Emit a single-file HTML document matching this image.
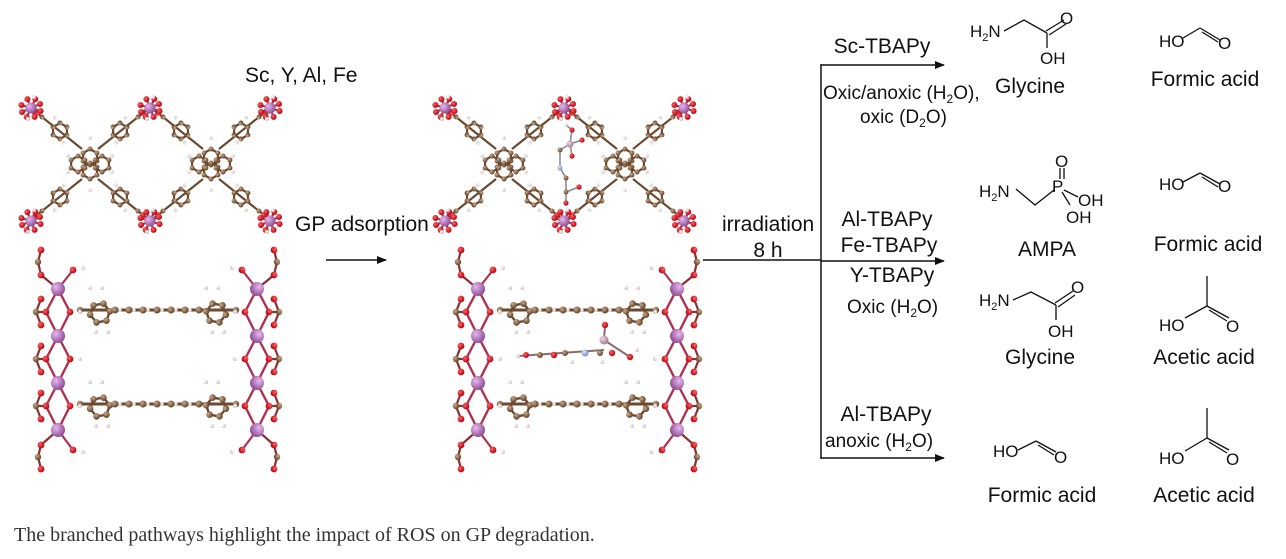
<!DOCTYPE html>
<html><head><meta charset="utf-8"><style>
html,body{margin:0;padding:0;background:#fff;width:1286px;height:559px;overflow:hidden}
svg{display:block}
text{font-family:"Liberation Sans",Arial,sans-serif;fill:#111}
</style></head><body>
<svg width="1286" height="559" viewBox="0 0 1286 559" xmlns="http://www.w3.org/2000/svg" xmlns:xlink="http://www.w3.org/1999/xlink">
<defs>
<radialGradient id="gC" cx="35%" cy="35%" r="70%"><stop offset="0" stop-color="#c9a88a"/><stop offset="1" stop-color="#5e3e25"/></radialGradient>
<radialGradient id="gO" cx="35%" cy="35%" r="70%"><stop offset="0" stop-color="#ff6060"/><stop offset="1" stop-color="#b00010"/></radialGradient>
<radialGradient id="gH" cx="35%" cy="35%" r="70%"><stop offset="0" stop-color="#ffffff"/><stop offset="1" stop-color="#cbb8b8"/></radialGradient>
<radialGradient id="gM" cx="35%" cy="35%" r="70%"><stop offset="0" stop-color="#e8b8ee"/><stop offset="1" stop-color="#8a4a92"/></radialGradient>
<radialGradient id="gN" cx="35%" cy="35%" r="70%"><stop offset="0" stop-color="#dde4ff"/><stop offset="1" stop-color="#7a86b8"/></radialGradient>
<radialGradient id="gP" cx="35%" cy="35%" r="70%"><stop offset="0" stop-color="#f4d8e8"/><stop offset="1" stop-color="#a07890"/></radialGradient>
<marker id="ah" markerWidth="10" markerHeight="8" refX="9" refY="4" orient="auto" markerUnits="userSpaceOnUse"><path d="M0,0 L10,4 L0,8 z" fill="#111"/></marker>

<g id="hex8">
<polygon points="0,8 -6.9,4 -6.9,-4 0,-8 6.9,-4 6.9,4" fill="none" stroke="#6a4a30" stroke-width="2.2"/>
<g fill="url(#gC)"><circle cx="0" cy="8" r="2.5"/><circle cx="-6.9" cy="4" r="2.5"/><circle cx="-6.9" cy="-4" r="2.5"/><circle cx="0" cy="-8" r="2.5"/><circle cx="6.9" cy="-4" r="2.5"/><circle cx="6.9" cy="4" r="2.5"/></g>
</g>
<g id="hex10">
<polygon points="0,10 -8.7,5 -8.7,-5 0,-10 8.7,-5 8.7,5" fill="none" stroke="#6a4a30" stroke-width="2.4"/>
<g fill="url(#gC)"><circle cx="0" cy="10" r="3.3"/><circle cx="-8.7" cy="5" r="3.3"/><circle cx="-8.7" cy="-5" r="3.3"/><circle cx="0" cy="-10" r="3.3"/><circle cx="8.7" cy="-5" r="3.3"/><circle cx="8.7" cy="5" r="3.3"/></g>
</g>
<g id="py">
<use href="#hex8" xlink:href="#hex8" x="0" y="-7"/><use href="#hex8" xlink:href="#hex8" x="0" y="7"/>
<use href="#hex8" xlink:href="#hex8" x="-12" y="0"/><use href="#hex8" xlink:href="#hex8" x="12" y="0"/>
<g fill="url(#gH)"><circle cx="-22" cy="-8" r="1.8"/><circle cx="22" cy="-8" r="1.8"/><circle cx="-22" cy="8" r="1.8"/><circle cx="22" cy="8" r="1.8"/><circle cx="0" cy="-26" r="1.8"/><circle cx="0" cy="26" r="1.8"/></g>
</g>
<g id="arm">
<line x1="0" y1="0" x2="50" y2="40" stroke="#6a4a30" stroke-width="2.2"/>
<use href="#hex8" xlink:href="#hex8" x="22" y="18"/>
<circle cx="18" cy="6" r="1.8" fill="url(#gH)"/><circle cx="27" cy="31" r="1.8" fill="url(#gH)"/>
<circle cx="40" cy="32" r="2.5" fill="url(#gC)"/>
<circle cx="45" cy="36" r="2.8" fill="url(#gO)"/>
</g>
<g id="mn">
<g stroke="#b03040" stroke-width="2.2">
<line x1="0" y1="0" x2="9.6" y2="3"/><line x1="0" y1="0" x2="3.6" y2="8.9"/><line x1="0" y1="0" x2="-4.3" y2="9"/><line x1="0" y1="0" x2="-9" y2="4"/>
<line x1="0" y1="0" x2="-9.6" y2="-3"/><line x1="0" y1="0" x2="-3.6" y2="-8.9"/><line x1="0" y1="0" x2="4.3" y2="-9"/><line x1="0" y1="0" x2="9" y2="-4"/>
</g>
<g fill="url(#gO)">
<circle cx="9.6" cy="3" r="3"/><circle cx="3.6" cy="8.9" r="3"/><circle cx="-4.3" cy="9" r="3"/><circle cx="-9" cy="4" r="3"/>
<circle cx="-9.6" cy="-3" r="3"/><circle cx="-3.6" cy="-8.9" r="3"/><circle cx="4.3" cy="-9" r="3"/><circle cx="9" cy="-4" r="3"/>
</g>
<circle cx="0" cy="0" r="5.5" fill="url(#gM)"/>
<circle cx="3" cy="-11" r="2" fill="url(#gH)"/><circle cx="-3" cy="11" r="2" fill="url(#gH)"/>
</g>
<g id="pyu">
<use href="#py" xlink:href="#py"/>
<use href="#arm" xlink:href="#arm" transform="translate(8,15)"/>
<use href="#arm" xlink:href="#arm" transform="translate(-8,15) scale(-1,1)"/>
<use href="#arm" xlink:href="#arm" transform="translate(8,-15) scale(1,-1)"/>
<use href="#arm" xlink:href="#arm" transform="translate(-8,-15) scale(-1,-1)"/>
</g>
<g id="topv">
<use href="#pyu" xlink:href="#pyu" x="90" y="164"/>
<use href="#pyu" xlink:href="#pyu" x="211" y="164"/>
<use href="#mn" xlink:href="#mn" x="31" y="108"/><use href="#mn" xlink:href="#mn" x="150" y="108"/><use href="#mn" xlink:href="#mn" x="270" y="108"/>
<use href="#mn" xlink:href="#mn" x="31" y="221"/><use href="#mn" xlink:href="#mn" x="150" y="221"/><use href="#mn" xlink:href="#mn" x="270" y="221"/>
</g>
<g id="cunit">
<polygon points="0,0 -12,23 0,47 12,23" fill="none" stroke="#b03050" stroke-width="2.4"/>
<line x1="-12" y1="23" x2="-22" y2="23" stroke="#8a3030" stroke-width="2.2"/>
<polyline points="-17,10 -22,23 -17,36" fill="none" stroke="#8a3030" stroke-width="2.2"/>
<circle cx="-12" cy="23" r="3.4" fill="url(#gO)"/><circle cx="12" cy="23" r="3.4" fill="url(#gO)"/>
<circle cx="-17" cy="10" r="3.4" fill="url(#gO)"/><circle cx="-22" cy="23" r="3.2" fill="url(#gC)"/><circle cx="-17" cy="36" r="3.4" fill="url(#gO)"/>
<circle cx="22" cy="23" r="2" fill="url(#gH)"/>
</g>
<g id="col">
<use href="#cunit" xlink:href="#cunit" y="289"/><use href="#cunit" xlink:href="#cunit" y="336"/><use href="#cunit" xlink:href="#cunit" y="383"/>
<polyline points="-17,250 -20,262 -17,275 0,289" fill="none" stroke="#8a3030" stroke-width="2.2"/>
<polyline points="0,430 -17,445 -20,457 -17,469" fill="none" stroke="#8a3030" stroke-width="2.2"/>
<line x1="0" y1="289" x2="15" y2="270" stroke="#b03050" stroke-width="2.2"/><line x1="0" y1="430" x2="15" y2="450" stroke="#b03050" stroke-width="2.2"/>
<circle cx="-17" cy="250" r="3.4" fill="url(#gO)"/><circle cx="-20" cy="262" r="3.2" fill="url(#gC)"/><circle cx="-17" cy="275" r="3.4" fill="url(#gO)"/>
<circle cx="15" cy="270" r="3.4" fill="url(#gO)"/><circle cx="25" cy="268" r="2" fill="url(#gH)"/>
<circle cx="-17" cy="445" r="3.4" fill="url(#gO)"/><circle cx="-20" cy="457" r="3.2" fill="url(#gC)"/><circle cx="-17" cy="469" r="3.4" fill="url(#gO)"/>
<circle cx="15" cy="450" r="3.4" fill="url(#gO)"/><circle cx="25" cy="452" r="2" fill="url(#gH)"/>
<g fill="url(#gM)"><circle cx="0" cy="289" r="7"/><circle cx="0" cy="336" r="7"/><circle cx="0" cy="383" r="7"/><circle cx="0" cy="430" r="7"/></g>
</g>
<g id="lk">
<line x1="80" y1="0" x2="236" y2="0" stroke="#6a4a30" stroke-width="3"/>
<use href="#hex10" xlink:href="#hex10" transform="translate(100,3) rotate(20)"/>
<use href="#hex10" xlink:href="#hex10" transform="translate(216,3) rotate(-20)"/>
<g fill="url(#gH)"><circle cx="90" cy="-22" r="2"/><circle cx="102" cy="-22" r="2"/><circle cx="96" cy="22" r="2"/><circle cx="108" cy="22" r="2"/>
<circle cx="206" cy="-22" r="2"/><circle cx="218" cy="-22" r="2"/><circle cx="212" cy="22" r="2"/><circle cx="224" cy="22" r="2"/>
<circle cx="120" cy="0" r="1.8"/><circle cx="134" cy="0" r="1.8"/><circle cx="148" cy="0" r="1.8"/><circle cx="162" cy="0" r="1.8"/><circle cx="176" cy="0" r="1.8"/><circle cx="190" cy="0" r="1.8"/></g>
<g fill="url(#gC)"><circle cx="80" cy="0" r="3.2"/><circle cx="236" cy="0" r="3.2"/>
<circle cx="115" cy="0" r="3.5"/><circle cx="129" cy="0" r="3.5"/><circle cx="143" cy="0" r="3.5"/><circle cx="157" cy="0" r="3.5"/><circle cx="171" cy="0" r="3.5"/><circle cx="185" cy="0" r="3.5"/><circle cx="199" cy="0" r="3.5"/></g>
</g>
<g id="sidev">
<use href="#lk" xlink:href="#lk" y="310"/><use href="#lk" xlink:href="#lk" y="404"/>
<use href="#col" xlink:href="#col" transform="translate(58,0)"/>
<use href="#col" xlink:href="#col" transform="translate(257,0) scale(-1,1)"/>
</g>
</defs>

<use href="#topv" xlink:href="#topv"/>
<use href="#sidev" xlink:href="#sidev"/>
<use href="#topv" xlink:href="#topv" x="414"/>
<use href="#sidev" xlink:href="#sidev" x="420"/>

<g stroke="#888" stroke-width="1.5">
<line x1="566" y1="125" x2="572" y2="130"/><line x1="572" y1="130" x2="570" y2="144"/><line x1="570" y1="144" x2="582" y2="140"/><line x1="570" y1="144" x2="572" y2="156"/>
<line x1="570" y1="144" x2="560" y2="150"/><line x1="560" y1="150" x2="560" y2="168"/><line x1="560" y1="168" x2="566" y2="178"/><line x1="566" y1="178" x2="566" y2="192"/>
<line x1="566" y1="192" x2="579" y2="187"/><line x1="566" y1="192" x2="566" y2="203"/>
</g>
<circle cx="566" cy="125" r="1.8" fill="url(#gH)"/><circle cx="572" cy="130" r="2.6" fill="url(#gO)"/><circle cx="570" cy="144" r="3.5" fill="url(#gP)"/>
<circle cx="582" cy="140" r="2.6" fill="url(#gO)"/><circle cx="572" cy="156" r="2.6" fill="url(#gO)"/><circle cx="560" cy="150" r="2.5" fill="url(#gC)"/>
<circle cx="560" cy="168" r="2.5" fill="url(#gN)"/><circle cx="566" cy="178" r="2.5" fill="url(#gC)"/><circle cx="566" cy="192" r="2.5" fill="url(#gC)"/>
<circle cx="579" cy="187" r="2.6" fill="url(#gO)"/><circle cx="566" cy="203" r="2.6" fill="url(#gO)"/>
<g stroke="#8a6a6a" stroke-width="2"><line x1="518" y1="356" x2="604" y2="350"/><line x1="604" y1="340" x2="605" y2="325"/><line x1="604" y1="340" x2="630" y2="357"/></g>
<circle cx="518" cy="356" r="2" fill="url(#gH)"/><circle cx="526" cy="355" r="3" fill="url(#gO)"/><circle cx="540" cy="355" r="3" fill="url(#gC)"/>
<circle cx="554" cy="355" r="3.2" fill="url(#gO)"/><circle cx="565" cy="353" r="3" fill="url(#gC)"/><circle cx="572" cy="362" r="2" fill="url(#gH)"/>
<circle cx="585" cy="353" r="3.5" fill="url(#gN)"/><circle cx="600" cy="353" r="3" fill="url(#gC)"/><circle cx="602" cy="362" r="2" fill="url(#gH)"/>
<circle cx="604" cy="340" r="4.5" fill="url(#gP)"/><circle cx="605" cy="325" r="3.2" fill="url(#gO)"/><circle cx="612" cy="353" r="3.2" fill="url(#gO)"/>
<circle cx="630" cy="357" r="3.2" fill="url(#gO)"/><circle cx="637" cy="350" r="2" fill="url(#gH)"/>

<g stroke="#111" stroke-width="1.5" fill="none">
<line x1="326" y1="260" x2="386" y2="260" marker-end="url(#ah)"/>
<line x1="703" y1="260" x2="821" y2="260"/>
<line x1="821" y1="64" x2="821" y2="459"/>
<line x1="821" y1="65" x2="944" y2="65" marker-end="url(#ah)"/>
<line x1="821" y1="261" x2="944" y2="261" marker-end="url(#ah)"/>
<line x1="821" y1="458" x2="944" y2="458" marker-end="url(#ah)"/>
</g>
<g font-size="21">
<text x="245" y="82">Sc, Y, Al, Fe</text>
<text x="295" y="231">GP adsorption</text>
<text x="722" y="231">irradiation</text>
<text x="768" y="257" text-anchor="middle">8 h</text>
<text x="882" y="53" text-anchor="middle">Sc-TBAPy</text>
<text x="887" y="226" text-anchor="middle">Al-TBAPy</text>
<text x="889" y="252" text-anchor="middle">Fe-TBAPy</text>
<text x="892" y="282" text-anchor="middle">Y-TBAPy</text>
<text x="886" y="421" text-anchor="middle">Al-TBAPy</text>
</g>
<g font-size="19">
<text x="823" y="99">Oxic/anoxic (H<tspan font-size="12" dy="4">2</tspan><tspan dy="-4">O),</tspan></text>
<text x="860" y="123">oxic (D<tspan font-size="12" dy="4">2</tspan><tspan dy="-4">O)</tspan></text>
<text x="847" y="313">Oxic (H<tspan font-size="12" dy="4">2</tspan><tspan dy="-4">O)</tspan></text>
<text x="825" y="447">anoxic (H<tspan font-size="12" dy="4">2</tspan><tspan dy="-4">O)</tspan></text>
</g>
<g font-size="21" text-anchor="middle">
<text x="1030" y="93">Glycine</text>
<text x="1205" y="86">Formic acid</text>
<text x="1047" y="256">AMPA</text>
<text x="1208" y="251">Formic acid</text>
<text x="1040" y="364">Glycine</text>
<text x="1204" y="364">Acetic acid</text>
<text x="1042" y="502">Formic acid</text>
<text x="1204" y="502">Acetic acid</text>
</g>
<g stroke="#111" stroke-width="1.3" fill="none">
<polyline points="1004,31 1024,20 1047,33"/><line x1="1047" y1="33" x2="1047" y2="48"/>
<line x1="1046" y1="31" x2="1064" y2="20"/><line x1="1049" y1="35" x2="1066" y2="24"/>
<polyline points="1183,38 1200,28"/><line x1="1200" y1="28" x2="1220" y2="40"/><line x1="1202" y1="32" x2="1218" y2="42"/>
<polyline points="1016,189 1035,205 1054,190"/><line x1="1064" y1="190" x2="1078" y2="197"/><line x1="1062" y1="192" x2="1070" y2="205"/>
<line x1="1060" y1="168" x2="1060" y2="179"/><line x1="1064" y1="168" x2="1064" y2="179"/>
<line x1="1183" y1="182" x2="1200" y2="173"/><line x1="1200" y1="173" x2="1220" y2="184"/><line x1="1202" y1="177" x2="1218" y2="187"/>
<polyline points="1013,300 1031,292 1056,305"/><line x1="1056" y1="305" x2="1056" y2="320"/>
<line x1="1055" y1="303" x2="1073" y2="291"/><line x1="1058" y1="307" x2="1075" y2="295"/>
<line x1="1185" y1="318" x2="1207" y2="306"/><line x1="1207" y1="306" x2="1207" y2="276"/>
<line x1="1207" y1="306" x2="1229" y2="318"/><line x1="1209" y1="310" x2="1227" y2="321"/>
<line x1="1018" y1="450" x2="1036" y2="441"/><line x1="1036" y1="441" x2="1056" y2="452"/><line x1="1038" y1="445" x2="1054" y2="455"/>
<line x1="1185" y1="451" x2="1207" y2="438"/><line x1="1207" y1="438" x2="1207" y2="408"/>
<line x1="1207" y1="438" x2="1229" y2="450"/><line x1="1209" y1="442" x2="1227" y2="453"/>
</g>
<g font-size="17">
<text x="970" y="37">H<tspan font-size="11" dy="4">2</tspan><tspan dy="-4">N</tspan></text>
<text x="1060" y="24">O</text><text x="1040" y="64">OH</text>
<text x="1159" y="47">HO</text><text x="1218" y="49">O</text>
<text x="979" y="197">H<tspan font-size="11" dy="4">2</tspan><tspan dy="-4">N</tspan></text>
<text x="1055" y="167">O</text><text x="1052" y="192">P</text><text x="1078" y="206">OH</text><text x="1066" y="223">OH</text>
<text x="1159" y="190">HO</text><text x="1218" y="192">O</text>
<text x="979" y="306">H<tspan font-size="11" dy="4">2</tspan><tspan dy="-4">N</tspan></text>
<text x="1071" y="293">O</text><text x="1048" y="337">OH</text>
<text x="1159" y="331">HO</text><text x="1226" y="332">O</text>
<text x="993" y="457">HO</text><text x="1054" y="463">O</text>
<text x="1159" y="464">HO</text><text x="1226" y="465">O</text>
</g>
<text x="14" y="541" font-size="20" style="font-family:'Liberation Serif',serif;fill:#333">The branched pathways highlight the impact of ROS on GP degradation.</text>
</svg>
</body></html>
